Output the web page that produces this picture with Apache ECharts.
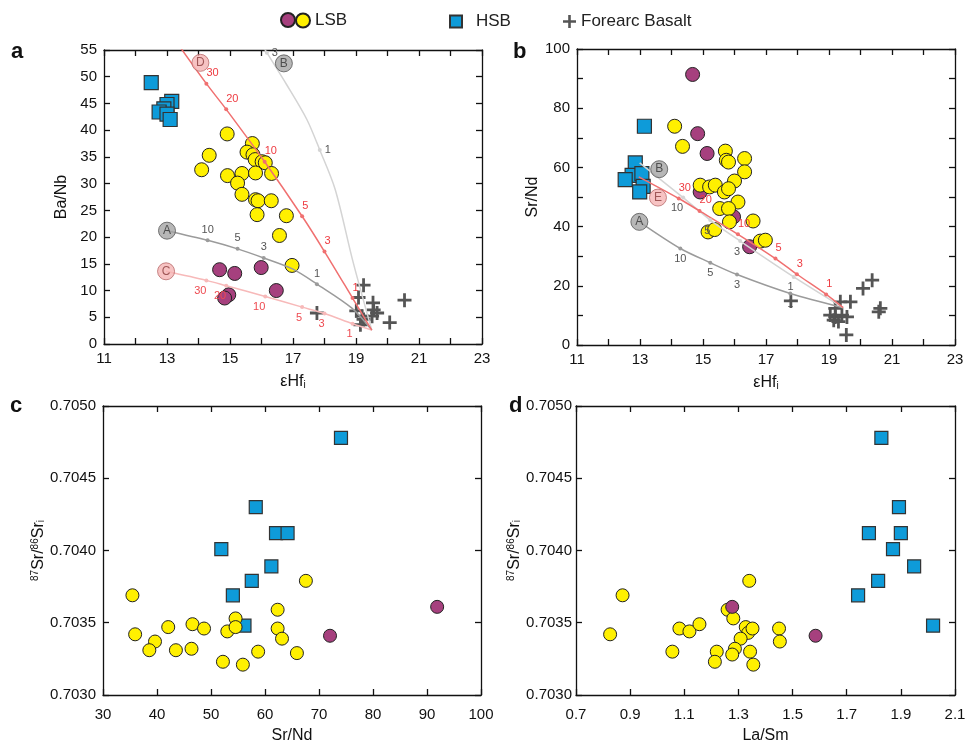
<!DOCTYPE html>
<html>
<head>
<meta charset="utf-8">
<script src="https://cdn.jsdelivr.net/npm/echarts@6/dist/echarts.min.js"></script>
<style>html,body{margin:0;padding:0;background:#fff}#chart{width:969px;height:745px}</style>
</head>
<body>
<div id="chart"></div>
<script>
var FONT = '"Liberation Sans", Arial, sans-serif';

// ---- panel a : eHfi vs Ba/Nb
var aLSBp = [[14.67,13.9],[15.15,13.2],[15.99,14.3],[16.47,10.0],[14.96,9.2],[14.83,8.6]];
var aLSBy = [[14.91,39.3],[14.34,35.3],[14.10,32.6],[15.71,37.5],[15.54,35.9],[15.73,35.4],[15.80,34.5],[16.02,34.1],[16.12,33.9],[14.92,31.5],[15.38,31.9],[15.81,32.0],[16.32,31.9],[15.24,30.1],[15.38,28.0],[15.81,27.0],[15.89,26.8],[16.31,26.8],[15.86,24.2],[16.79,24.0],[16.57,20.3],[16.97,14.7]];
var aHSB = [[12.5,48.9],[13.15,45.4],[13.0,44.8],[12.9,44.0],[12.75,43.4],[13.0,43.0],[13.1,42.0]];
var aFA = [[17.76,5.8],[19.24,11.0],[19.08,8.7],[19.54,7.7],[19.01,6.2],[19.56,6.4],[19.67,5.8],[19.19,5.2],[19.51,5.2],[19.24,4.6],[19.14,3.6],[20.07,4.0],[20.54,8.2]];
// mixing curves (panel a)
var aCurveA = [[13.0,21.2],[14.29,19.4],[15.24,17.8],[16.07,16.1],[17.0,14.0],[17.76,11.2],[18.87,6.7],[19.5,2.6]];
var aTickA = ['', '10', '5', '3', '', '1', '', ''];
var aCurveB = [[15.9,57],[16.17,54.5],[16.8,48.5],[17.44,42.0],[17.85,36.3],[18.34,28.9],[18.9,15.5],[19.5,2.6]];
var aTickB = ['', '3', '', '', '1', '', '', ''];
var aCurveC = [[12.97,13.6],[14.25,11.9],[14.88,10.9],[16.12,8.9],[17.29,6.9],[18.0,5.7],[18.89,3.8],[19.5,2.6]];
var aTickC = ['', '30', '20', '10', '5', '3', '1', ''];
var aCurveD = [[13.3,56.5],[14.25,48.7],[14.88,43.9],[16.10,34.1],[17.29,23.9],[18.0,17.3],[18.89,8.6],[19.5,2.6]];
var aTickD = ['', '30', '20', '10', '5', '3', '1', ''];
var aEnds = [[13.0,21.2],[16.71,52.5],[12.97,13.6],[14.06,52.6]];
var aEndNames = ['A', 'B', 'C', 'D'];

// ---- panel b : eHfi vs Sr/Nd
var bLSBp = [[14.67,91.4],[14.83,71.4],[15.13,64.7],[14.91,51.7],[15.97,43.3],[16.48,33.2]];
var bLSBy = [[14.10,73.9],[14.35,67.1],[15.71,65.5],[15.74,62.4],[15.81,61.8],[16.32,63.0],[16.32,58.5],[16.0,55.4],[14.91,54.0],[15.21,53.4],[15.39,54.0],[15.68,51.7],[15.81,52.8],[16.11,48.3],[15.53,46.1],[15.81,46.1],[15.84,41.6],[16.59,41.9],[15.16,38.2],[15.37,39.0],[16.82,35.1],[16.98,35.4]];
var bHSB = [[13.14,73.9],[12.85,61.5],[12.75,57.3],[12.53,55.9],[13.06,57.9],[13.10,53.6],[12.99,51.7]];
var bFA = [[17.79,14.9],[20.08,19.1],[20.37,21.9],[20.63,12.4],[20.58,11.2],[19.36,14.6],[19.68,14.6],[19.2,12.4],[19.04,10.1],[19.2,9.5],[19.41,10.1],[19.57,9.5],[19.15,8.4],[19.30,7.9],[19.55,3.4]];
var bCurveA = [[12.98,41.6],[14.28,32.6],[15.23,27.8],[16.08,23.8],[17.77,17.4],[19.45,12.6]];
var bTickA = ['', '10', '5', '3', '1', ''];
var bCurveB = [[12.99,61.5],[14.37,49.8],[15.23,42.2],[16.18,35.1],[17.88,23.0],[19.45,12.6]];
var bTickB = ['', '10', '5', '3', '1', ''];
var bCurveE = [[12.96,56.8],[14.23,49.5],[14.89,45.3],[16.11,37.4],[17.30,29.2],[17.98,23.9],[18.91,17.1],[19.45,12.6]];
var bTickE = ['', '30', '20', '10', '5', '3', '1', ''];
var bEnds = [[12.98,41.6],[13.61,59.4],[13.57,49.8]];
var bEndNames = ['A', 'B', 'E'];

// ---- panel c : Sr/Nd vs 87Sr/86Sri
var cLSBp = [[72.04,0.70341],[91.88,0.70361]];
var cLSBy = [[35.45,0.70369],[35.95,0.70342],[39.63,0.70337],[38.58,0.70331],[42.08,0.70347],[43.5,0.70331],[46.57,0.70349],[46.39,0.70332],[48.71,0.70346],[53.02,0.70344],[54.55,0.70353],[54.55,0.70347],[52.21,0.70323],[55.9,0.70321],[58.73,0.70330],[62.34,0.70359],[62.34,0.70346],[63.15,0.70339],[65.91,0.70329],[67.57,0.70379]];
var cHSB = [[74.07,0.70478],[58.29,0.70430],[62.04,0.70412],[64.18,0.70412],[51.91,0.70401],[61.18,0.70389],[57.55,0.70379],[54.05,0.70369],[56.2,0.70348]];

// ---- panel d : La/Sm vs 87Sr/86Sri
var dLSBp = [[1.277,0.70361],[1.585,0.70341]];
var dLSBy = [[0.872,0.70369],[0.826,0.70342],[1.082,0.70346],[1.119,0.70344],[1.156,0.70349],[1.056,0.70330],[1.260,0.70359],[1.281,0.70353],[1.327,0.70347],[1.336,0.70343],[1.352,0.70346],[1.308,0.70339],[1.287,0.70332],[1.277,0.70328],[1.220,0.70330],[1.213,0.70323],[1.343,0.70330],[1.355,0.70321],[1.340,0.70379],[1.450,0.70346],[1.453,0.70337]];
var dHSB = [[1.828,0.70478],[1.893,0.70430],[1.782,0.70412],[1.900,0.70412],[1.871,0.70401],[1.949,0.70389],[1.816,0.70379],[1.742,0.70369],[2.019,0.70348]];

var PURPLE = '#a6407e', YELLOW = '#fff000', BLUE = '#0e9bd9', CROSS = '#555555';
var RED = '#f07070', PINK = '#f7b9b9', GREY = '#9b9b9b', LGREY = '#d4d4d4';
var PLUS = 'path://M4,0H6V4H10V6H6V10H4V6H0V4H4Z';

var chart = echarts.init(document.getElementById('chart'));

function xAxis(g, min, max, step, fmt, name, gap, margin, pos) {
	return {
		type: 'value', gridIndex: g, position: pos, min: min, max: max, interval: step,
		name: pos == 'bottom' ? name : '', nameLocation: 'middle', nameGap: gap,
		nameTextStyle: { fontSize: 16, color: '#111', fontFamily: FONT,
			rich: { n: { fontSize: 16, fontFamily: FONT, color: '#111' }, s: { fontSize: 10, fontFamily: FONT, color: '#111', verticalAlign: 'bottom' } } },
		axisLine: { onZero: false, lineStyle: { color: '#111', width: 1.3 } },
		axisTick: { inside: true, length: 6, lineStyle: { color: '#111', width: 1.3 } },
		axisLabel: { show: pos == 'bottom', color: '#111', fontSize: 15, fontFamily: FONT, margin: margin, formatter: fmt },
		splitLine: { show: false }
	};
}
function yAxis(g, min, max, step, fmt, name, gap, margin, pos) {
	return {
		type: 'value', gridIndex: g, position: pos, min: min, max: max, interval: step,
		name: pos == 'left' ? name : '', nameLocation: 'middle', nameGap: gap,
		nameTextStyle: { fontSize: 16, color: '#111', fontFamily: FONT,
			rich: { n: { fontSize: 16, fontFamily: FONT, color: '#111' },
				t: { fontSize: 10, fontFamily: FONT, color: '#111', verticalAlign: 'top' },
				s: { fontSize: 10, fontFamily: FONT, color: '#111', verticalAlign: 'bottom' } } },
		axisLine: { onZero: false, lineStyle: { color: '#111', width: 1.3 } },
		axisTick: { inside: true, length: 6, lineStyle: { color: '#111', width: 1.3 } },
		axisLabel: { show: pos == 'left', color: '#111', fontSize: 15, fontFamily: FONT, margin: margin, formatter: fmt },
		splitLine: { show: false }
	};
}
var oddOnly = function (v) { return Math.round(v) % 2 == 1 ? v : ''; };
var by20 = function (v) { return Math.round(v) % 20 == 0 ? v : ''; };
var sr4 = function (v) { return v.toFixed(4); };
var fix1 = function (v) { return v.toFixed(1); };
var plain = function (v) { return v; };
var hfName = '{n|εHf}{s|i}';
var srName = '{t|87}{n|Sr/}{t|86}{n|Sr}{s|i}';

var xAxes = [], yAxes = [];
['bottom', 'top'].forEach(function (p) { xAxes.push(xAxis(0, 11, 23, 1, oddOnly, hfName, 30, 7, p)); });
['bottom', 'top'].forEach(function (p) { xAxes.push(xAxis(1, 11, 23, 1, oddOnly, hfName, 30, 7, p)); });
['bottom', 'top'].forEach(function (p) { xAxes.push(xAxis(2, 30, 100, 10, plain, 'Sr/Nd', 33, 12, p)); });
['bottom', 'top'].forEach(function (p) { xAxes.push(xAxis(3, 0.7, 2.1, 0.2, fix1, 'La/Sm', 33, 12, p)); });
yAxes.push(yAxis(0, 0, 55, 5, plain, 'Ba/Nb', 34, 7, 'left'));
yAxes.push(yAxis(0, 0, 55, 5, plain, '', 0, 7, 'right'));
yAxes.push(yAxis(1, 0, 100, 10, by20, 'Sr/Nd', 29, 7, 'left'));
yAxes.push(yAxis(1, 0, 100, 10, by20, '', 0, 7, 'right'));
yAxes.push(yAxis(2, 0.703, 0.705, 0.0005, sr4, srName, 49, 7, 'left'));
yAxes.push(yAxis(2, 0.703, 0.705, 0.0005, sr4, '', 0, 7, 'right'));
yAxes.push(yAxis(3, 0.703, 0.705, 0.0005, sr4, srName, 48, 4, 'left'));
yAxes.push(yAxis(3, 0.703, 0.705, 0.0005, sr4, '', 0, 4, 'right'));

function pts(name, g, data, kind, size) {
	var s = { type: 'scatter', name: name, xAxisIndex: g * 2, yAxisIndex: g * 2, data: data, symbolSize: size, z: 2 };
	if (kind == 'p') { s.symbol = 'circle'; s.itemStyle = { color: PURPLE, borderColor: '#222', borderWidth: 1, opacity: 1 }; }
	if (kind == 'y') { s.symbol = 'circle'; s.itemStyle = { color: YELLOW, borderColor: '#222', borderWidth: 1, opacity: 1 }; }
	if (kind == 'h') { s.symbol = 'rect'; s.itemStyle = { color: BLUE, borderColor: '#333', borderWidth: 1.2, opacity: 1 }; }
	if (kind == 'f') { s.symbol = PLUS; s.itemStyle = { color: CROSS, opacity: 1 }; }
	return s;
}
function curve(g, data, ticks, color, lblColor, pos, align) {
	return {
		type: 'line', xAxisIndex: g * 2, yAxisIndex: g * 2, smooth: 0.3, z: 3, silent: true,
		lineStyle: { color: color, width: 1.5 }, itemStyle: { color: color },
		symbol: 'circle', symbolSize: 4, showSymbol: true,
		data: data.map(function (p, i) {
			if (!ticks[i]) return { value: p, symbolSize: 0 };
			return { value: p, label: { show: true, formatter: ticks[i], position: pos, align: align, distance: 3,
				color: lblColor, fontSize: 11, fontFamily: FONT } };
		})
	};
}
function ends(g, data, names) {
	return {
		type: 'scatter', xAxisIndex: g * 2, yAxisIndex: g * 2, symbolSize: 17, z: 4, silent: true,
		data: data.map(function (p, i) {
			var pink = names[i] == 'C' || names[i] == 'D' || names[i] == 'E';
			return { value: p, itemStyle: { color: pink ? '#f5b4b4' : '#a5a5a5', borderColor: pink ? '#b86a6a' : '#555', borderWidth: 1 },
				label: { show: true, position: 'inside', formatter: names[i], color: pink ? '#8a3c3c' : '#333', fontSize: 12, fontFamily: FONT } };
		})
	};
}

var series = [
	pts('HSB', 0, aHSB, 'h', 14), pts('LSBp', 0, aLSBp, 'p', 14), pts('LSB', 0, aLSBy, 'y', 14), pts('Forearc Basalt', 0, aFA, 'f', 14),
	curve(0, aCurveB, aTickB, LGREY, '#555', 'right', 'left'),
	curve(0, aCurveA, aTickA, GREY, '#555', 'top', 'center'),
	curve(0, aCurveC, aTickC, PINK, '#ee4a50', 'bottom', 'right'),
	curve(0, aCurveD, aTickD, RED, '#ee3a40', 'top', 'left'),
	ends(0, aEnds, aEndNames),

	pts('HSB', 1, bHSB, 'h', 14), pts('LSBp', 1, bLSBp, 'p', 14), pts('LSB', 1, bLSBy, 'y', 14), pts('Forearc Basalt', 1, bFA, 'f', 14),
	curve(1, bCurveA, bTickA, GREY, '#555', 'bottom', 'center'),
	curve(1, bCurveB, bTickB, LGREY, '#555', 'bottom', 'right'),
	curve(1, bCurveE, bTickE, RED, '#ee3a40', 'top', 'left'),
	ends(1, bEnds, bEndNames),

	pts('HSB', 2, cHSB, 'h', 13), pts('LSB', 2, cLSBy, 'y', 13), pts('LSBp', 2, cLSBp, 'p', 13),
	pts('HSB', 3, dHSB, 'h', 13), pts('LSB', 3, dLSBy, 'y', 13), pts('LSBp', 3, dLSBp, 'p', 13)
];

var legText = { fontSize: 17, color: '#222', fontFamily: FONT };
var letter = { fontSize: 22, fontWeight: 'bold', color: '#111', fontFamily: FONT };
var option = {
	animation: false,
	backgroundColor: '#fff',
	textStyle: { fontFamily: FONT },
	title: [
		{ text: 'a', left: 6, top: 36, textStyle: letter },
		{ text: 'b', left: 508, top: 36, textStyle: letter },
		{ text: 'c', left: 5, top: 390, textStyle: letter },
		{ text: 'd', left: 504, top: 390, textStyle: letter }
	],
	legend: [
		{ data: ['LSBp'], left: 275, top: 7, itemWidth: 14, itemHeight: 14, formatter: function () { return ''; }, textStyle: legText, selectedMode: false },
		{ data: ['LSB'], left: 290, top: 7, itemWidth: 14, itemHeight: 14, textStyle: legText, selectedMode: false },
		{ data: [{ name: 'HSB', icon: 'rect' }], left: 444, top: 8, itemWidth: 12, itemHeight: 12, textStyle: { fontSize: 17, color: '#222', fontFamily: FONT, padding: [0, 0, 0, 9] }, selectedMode: false },
		{ data: [{ name: 'Forearc Basalt', icon: PLUS }], left: 558, top: 8, itemWidth: 13, itemHeight: 13, textStyle: legText, selectedMode: false }
	],
	grid: [
		{ left: 104, top: 50, width: 378, height: 294 },
		{ left: 577, top: 49, width: 378, height: 296 },
		{ left: 103, top: 406, width: 378, height: 293 },
		{ left: 576, top: 406, width: 379, height: 293 }
	],
	xAxis: xAxes,
	yAxis: yAxes,
	series: series
};
chart.setOption(option);
</script>
</body>
</html>
